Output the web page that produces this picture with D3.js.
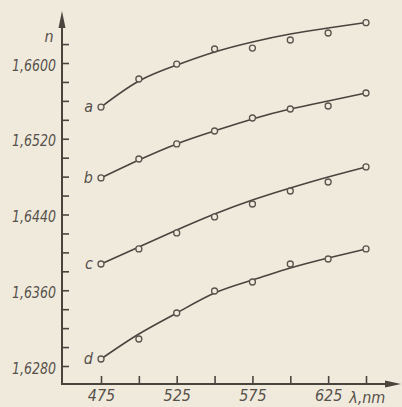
<!DOCTYPE html>
<html>
<head>
<meta charset="utf-8">
<script src="https://cdn.jsdelivr.net/npm/d3@7/dist/d3.min.js"></script>
<style>
  html, body { margin: 0; padding: 0; background: #f0eadd; }
  svg { display: block; }
  text { font-family: "Liberation Sans Narrow", "DejaVu Sans Condensed", sans-serif; font-style: italic; fill: #57514b; }
</style>
</head>
<body>
<svg id="chart" width="402" height="407"></svg>
<script>
// wavelengths, nm
const wavelengths = [475, 500, 525, 550, 575, 600, 625, 650];
// measured refractive index (circles)
const seriesA = [1.65535, 1.65831, 1.65989, 1.66148, 1.66158, 1.66243, 1.66317, 1.66426];
const seriesB = [1.64786, 1.64986, 1.65145, 1.65282, 1.65419, 1.65514, 1.65546, 1.65683];
const seriesC = [1.63877, 1.64036, 1.64205, 1.64374, 1.64511, 1.64648, 1.64743, 1.64902];
const seriesD = [1.62874, 1.63085, 1.63360, 1.63592, 1.63687, 1.63877, 1.63930, 1.64036];
// smoothed curves drawn through the measurements
const curveA = [1.65535, 1.65810, 1.65979, 1.66116, 1.66222, 1.66306, 1.66370, 1.66428];
const curveB = [1.64786, 1.64975, 1.65145, 1.65282, 1.65409, 1.65514, 1.65599, 1.65683];
const curveC = [1.63877, 1.64057, 1.64236, 1.64405, 1.64553, 1.64680, 1.64796, 1.64902];
const curveD = [1.62874, 1.63138, 1.63360, 1.63571, 1.63708, 1.63835, 1.63941, 1.64036];
const seriesLabels = ["a", "b", "c", "d"];
// ticks
const yMajorTicks = [1.6280, 1.6360, 1.6440, 1.6520, 1.6600];
const yMinorTicks = [1.628, 1.630, 1.632, 1.634, 1.636, 1.638, 1.640, 1.642, 1.644, 1.646, 1.648, 1.650, 1.652, 1.654, 1.656, 1.658, 1.660, 1.662];
const xTicks = [475, 500, 525, 550, 575, 600, 625, 650];
const xTickLabels = [475, 525, 575, 625];
const xUnit = "λ,nm";
const yTitle = "n";

const ink = "#4a443f";
const svg = d3.select("#chart");
const x = d3.scaleLinear().domain([475, 650]).range([101, 366]);
const y = d3.scaleLinear().domain([1.628, 1.660]).range([366, 63]);

const axisX = 62, axisY = 384;

// axis lines with arrows
svg.append("line").attr("x1", axisX).attr("x2", axisX).attr("y1", axisY + 1).attr("y2", 24)
  .attr("stroke", ink).attr("stroke-width", 2);
svg.append("path").attr("d", `M${axisX},11 L${axisX - 3.5},28 L${axisX + 3.5},28 Z`).attr("fill", ink);
svg.append("line").attr("x1", axisX - 1).attr("x2", 390).attr("y1", axisY).attr("y2", axisY)
  .attr("stroke", ink).attr("stroke-width", 2);
svg.append("path").attr("d", `M401,${axisY} L385,${axisY - 3.5} L385,${axisY + 3.5} Z`).attr("fill", ink);

// y tick marks (pointing right)
const yTickG = svg.append("g").attr("transform", `translate(${axisX},0)`)
  .call(d3.axisRight(y).tickValues(yMinorTicks).tickSize(7).tickFormat(""));
yTickG.select(".domain").remove();
yTickG.selectAll("line").attr("stroke", ink).attr("stroke-width", 1.6);

// y labels
const yLabG = svg.append("g").attr("transform", `translate(${axisX},2)`)
  .call(d3.axisLeft(y).tickValues(yMajorTicks).tickSize(0).tickPadding(6)
    .tickFormat(d => d3.format(".4f")(d).replace(".", ",")));
yLabG.select(".domain").remove();
yLabG.selectAll("text").attr("font-size", 16).style("font-family", null).attr("fill", "#57514b")
  .attr("textLength", 44).attr("lengthAdjust", "spacingAndGlyphs");

// x tick marks (pointing up)
const xTickG = svg.append("g").attr("transform", `translate(0,${axisY})`)
  .call(d3.axisTop(x).tickValues(xTicks).tickSize(8).tickFormat(""));
xTickG.select(".domain").remove();
xTickG.selectAll("line").attr("stroke", ink).attr("stroke-width", 1.6);

// x labels
const xLabG = svg.append("g").attr("transform", `translate(0,${axisY})`)
  .call(d3.axisBottom(x).tickValues(xTickLabels).tickSize(0).tickPadding(6));
xLabG.select(".domain").remove();
xLabG.selectAll("text").attr("font-size", 16).style("font-family", null).attr("fill", "#57514b");

svg.append("text").attr("x", x(625) + 21).attr("y", 403).attr("font-size", 16).text(xUnit);
svg.append("text").attr("x", 49).attr("y", 42).attr("text-anchor", "middle").attr("font-size", 16).text(yTitle);

// series
const pointsAll = [seriesA, seriesB, seriesC, seriesD];
const curvesAll = [curveA, curveB, curveC, curveD];
const line = d3.line().x(d => x(d[0])).y(d => y(d[1])).curve(d3.curveNatural);

curvesAll.forEach((c, i) => {
  svg.append("path").datum(wavelengths.map((w, j) => [w, c[j]]))
    .attr("d", line).attr("fill", "none").attr("stroke", ink).attr("stroke-width", 1.6);
});
pointsAll.forEach((s, i) => {
  svg.append("g").selectAll("circle").data(wavelengths.map((w, j) => [w, s[j]]))
    .join("circle").attr("cx", d => x(d[0])).attr("cy", d => y(d[1])).attr("r", 3)
    .attr("fill", "#f0eadd").attr("stroke", "#5a544e").attr("stroke-width", 1.3);
  svg.append("text").attr("x", x(wavelengths[0]) - 8).attr("y", y(s[0]) + 5)
    .attr("text-anchor", "end").attr("font-size", 16).text(seriesLabels[i]);
});
</script>
</body>
</html>
